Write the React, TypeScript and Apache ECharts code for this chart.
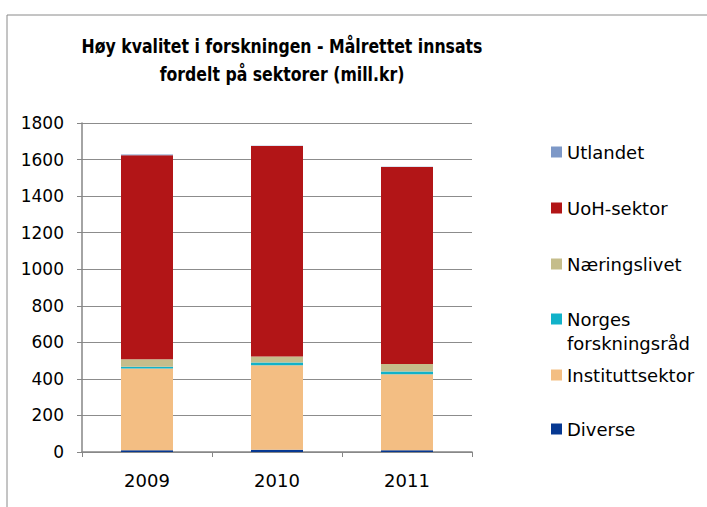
import React, { useEffect, useRef } from "react";
import * as echarts from "echarts";

const years = ["2009", "2010", "2011"];
const diverse = [10, 12, 10];
const instituttsektor = [447, 463, 416];
const norgesForskningsrad = [10, 14, 14];
const naeringslivet = [40, 33, 41];
const uohSektor = [1116, 1152, 1078];
const utlandet = [5, 2, 2];
const yTicks = [0, 200, 400, 600, 800, 1000, 1200, 1400, 1600, 1800];

const titleLines = [
  "Høy kvalitet i forskningen - Målrettet innsats",
  "fordelt på sektorer (mill.kr)",
];

const seriesDefs = [
  { name: "Diverse", data: diverse, color: "#063892" },
  { name: "Instituttsektor", data: instituttsektor, color: "#F3BE83" },
  { name: "Norges forskningsråd", data: norgesForskningsrad, color: "#11B2C9" },
  { name: "Næringslivet", data: naeringslivet, color: "#C5BD8B" },
  { name: "UoH-sektor", data: uohSektor, color: "#B21517" },
  { name: "Utlandet", data: utlandet, color: "#7D98C7" },
];

const legendTops: Record<string, number> = {
  Utlandet: 153,
  "UoH-sektor": 209,
  Næringslivet: 265,
  "Norges forskningsråd": 320,
  Instituttsektor: 376,
  Diverse: 430,
};

export default function App() {
  const ref = useRef<HTMLDivElement>(null);
  useEffect(() => {
    if (!ref.current) return;
    const chart = echarts.init(ref.current, undefined, { renderer: "svg" });
    const font = "'DejaVu Sans', Verdana, sans-serif";
    chart.setOption({
      animation: false,
      backgroundColor: "#ffffff",
      textStyle: { fontFamily: font },
      grid: { left: 82, right: 235, top: 123, bottom: 55, containLabel: false },
      xAxis: {
        type: "category",
        data: years,
        boundaryGap: true,
        axisLine: { lineStyle: { color: "#868686", width: 1.5 } },
        axisTick: { show: true, length: 5, alignWithLabel: false, lineStyle: { color: "#868686" } },
        axisLabel: { color: "#000", fontSize: 18, margin: 19, fontFamily: font },
        splitLine: { show: false },
      },
      yAxis: {
        type: "value",
        min: yTicks[0],
        max: yTicks[yTicks.length - 1],
        interval: 200,
        axisLine: { show: true, lineStyle: { color: "#868686", width: 1.5 } },
        axisTick: { show: true, length: 5, lineStyle: { color: "#868686" } },
        axisLabel: {
          color: "#000",
          fontSize: 17,
          margin: 18,
          fontFamily: font,
          formatter: (v: number) => String(v),
        },
        splitLine: { show: true, lineStyle: { color: "#8c8c8c", width: 1 } },
      },
      legend: seriesDefs.map((s) => ({
        data: [s.name],
        left: 551,
        top: legendTops[s.name] - 10,
        padding: 0,
        itemWidth: 11,
        itemHeight: 11,
        icon: "rect",
        itemGap: 4,
        textStyle: { fontSize: 18, color: "#000", fontFamily: font },
        formatter: (n: string) => (n === "Norges forskningsråd" ? "Norges" : n),
      })),
      series: seriesDefs.map((s) => ({
        name: s.name,
        type: "bar",
        stack: "total",
        data: s.data,
        barWidth: 52,
        itemStyle: { color: s.color },
      })),
      graphic: [
        {
          type: "rect",
          shape: { x: 7, y: 15, width: 900, height: 700 },
          style: { fill: "none", stroke: "#8a8a8a", lineWidth: 1 },
          silent: true,
        },
        ...titleLines.map((t, i) => ({
          type: "text",
          x: 282,
          y: 46 + i * 28,
          scaleY: 1.15,
          style: {
            text: t,
            fill: "#000",
            font: "bold 17.5px 'DejaVu Sans Condensed', sans-serif",
            textAlign: "center",
            textVerticalAlign: "middle",
          },
        })),
        {
          type: "text",
          x: 567,
          y: 343,
          style: {
            text: "forskningsråd",
            fill: "#000",
            font: "18px 'DejaVu Sans', sans-serif",
            textAlign: "left",
            textVerticalAlign: "middle",
          },
        },
      ],
    });
    return () => chart.dispose();
  }, []);
  return <div ref={ref} style={{ width: 707, height: 507, position: "absolute", left: 0, top: 0 }} />;
}
